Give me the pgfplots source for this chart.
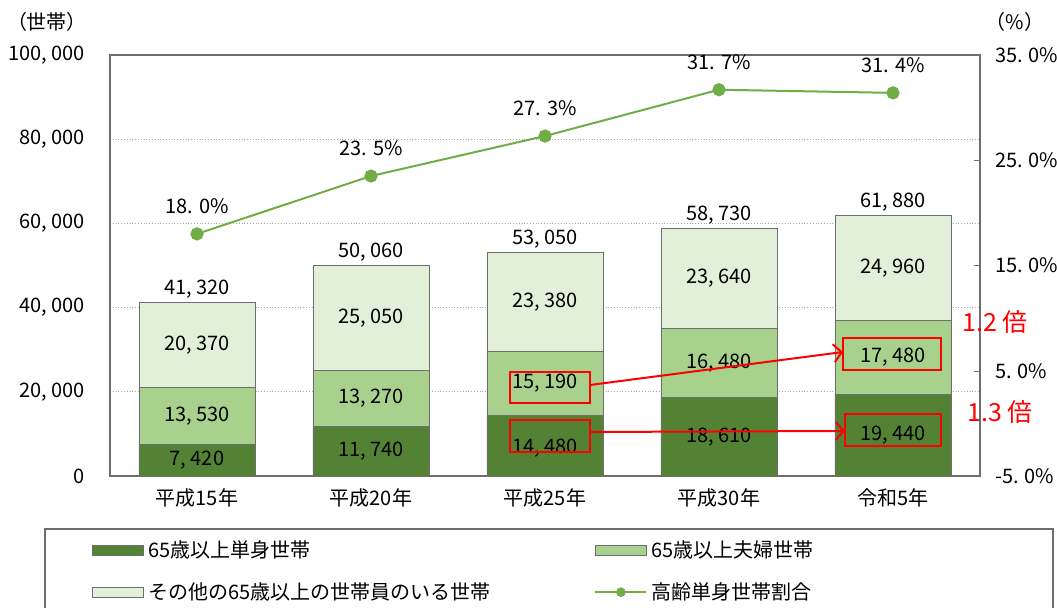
\documentclass[border=0pt]{standalone}
\usepackage{pgfplots}
\pgfplotsset{compat=1.18}
\usepackage{fontspec}
\setmainfont{Noto Sans CJK JP}
\usetikzlibrary{arrows.meta}
\definecolor{dg}{RGB}{84,130,53}
\definecolor{mg}{RGB}{169,209,142}
\definecolor{lg}{RGB}{226,240,217}
\definecolor{ln}{RGB}{112,173,71}
\definecolor{edge}{RGB}{110,110,110}
\begin{document}
\begin{tikzpicture}[font=\fontsize{10}{12}\selectfont]
\useasboundingbox (-55pt,-66pt) rectangle (473.5pt,238pt);
\begin{axis}[name=ax, at={(0,0)}, anchor=south west,
  scale only axis, width=435pt, height=210.5pt,
  xmin=-0.5, xmax=4.5, ymin=0, ymax=100000,
  ybar stacked, bar width=58pt, clip=false,
  xtick={0,1,2,3,4},
  xticklabels={平成15年,平成20年,平成25年,平成30年,令和5年},
  xticklabel style={yshift=-3pt},
  ytick={0,20000,40000,60000,80000,100000},
  yticklabels={0,{20, 000},{40, 000},{60, 000},{80, 000},{100, 000}},
  yticklabel style={xshift=-9pt},
  scaled y ticks=false,
  tick style={draw=none},
  ymajorgrids, grid style={densely dotted, gray!70},
  axis line style={edge, line width=0.8pt},
  legend columns=2,
  legend cell align=left,
  legend style={draw=none, fill=none, at={(0,0)}, anchor=north west,
    xshift=-9pt, yshift=-30pt, inner sep=0pt, row sep=7pt,
    /tikz/every even column/.append style={column sep=50pt}},
  area legend,
  legend image code/.code={\draw[#1] (0pt,-2.6pt) rectangle (25.5pt,2.6pt);},
]
\addplot[fill=dg, draw=edge] coordinates {(0,7420) (1,11740) (2,14480) (3,18610) (4,19440)};
\addplot[fill=mg, draw=edge] coordinates {(0,13530) (1,13270) (2,15190) (3,16480) (4,17480)};
\addplot[fill=lg, draw=edge] coordinates {(0,20370) (1,25050) (2,23380) (3,23640) (4,24960)};
\addlegendentry{65歳以上単身世帯}
\addlegendentry{65歳以上夫婦世帯}
\addlegendentry{その他の65歳以上の世帯員のいる世帯}
\addlegendimage{legend image code/.code={%
  \draw[ln, line width=1pt] (0pt,0pt) -- (25.5pt,0pt);
  \fill[ln] (12.75pt,0pt) circle (2.2pt);}}
\addlegendentry{高齢単身世帯割合}
\end{axis}
\begin{axis}[at={(0,0)}, anchor=south west,
  scale only axis, width=435pt, height=210.5pt,
  xmin=-0.5, xmax=4.5, ymin=-5, ymax=35,
  axis x line=none, axis y line*=right, clip=false,
  ytick={-5,5,15,25,35},
  yticklabels={-5. 0\%,5. 0\%,15. 0\%,25. 0\%,35. 0\%},
  yticklabel style={xshift=4pt},
  tick align=inside, major tick length=3pt,
  tick style={edge},
  axis line style={edge, line width=0.8pt},
]
\addplot[ln, line width=1pt, mark=*, mark size=2.8pt, mark options={fill=ln, draw=ln}]
  coordinates {(0,18.0) (1,23.5) (2,27.3) (3,31.7) (4,31.4)};
\node[anchor=south, yshift=6.5pt] at (axis cs:0,18.0) {18. 0\%};
\node[anchor=south, yshift=6.5pt] at (axis cs:1,23.5) {23. 5\%};
\node[anchor=south, yshift=6.5pt] at (axis cs:2,27.3) {27. 3\%};
\node[anchor=south, yshift=6.5pt] at (axis cs:3,31.7) {31. 7\%};
\node[anchor=south, yshift=6.5pt] at (axis cs:4,31.4) {31. 4\%};
\end{axis}
% overlay axis for labels and annotations (left-axis coordinates)
\begin{axis}[at={(0,0)}, anchor=south west,
  scale only axis, width=435pt, height=210.5pt,
  xmin=-0.5, xmax=4.5, ymin=0, ymax=100000,
  hide axis, clip=false]
\node at (axis cs:0,3710) {7, 420};
\node at (axis cs:0,14185) {13, 530};
\node at (axis cs:0,31135) {20, 370};
\node[anchor=south, yshift=-1.5pt] at (axis cs:0,41320) {41, 320};
\node at (axis cs:1,5870) {11, 740};
\node at (axis cs:1,18375) {13, 270};
\node at (axis cs:1,37535) {25, 050};
\node[anchor=south, yshift=-1.5pt] at (axis cs:1,50060) {50, 060};
\node at (axis cs:2,6700) {14, 480};
\node at (axis cs:2,22075) {15, 190};
\node at (axis cs:2,41360) {23, 380};
\node[anchor=south, yshift=-1.5pt] at (axis cs:2,53050) {53, 050};
\node at (axis cs:3,9305) {18, 610};
\node at (axis cs:3,26850) {16, 480};
\node at (axis cs:3,46910) {23, 640};
\node[anchor=south, yshift=-1.5pt] at (axis cs:3,58730) {58, 730};
\node at (axis cs:4,9720) {19, 440};
\node at (axis cs:4,28180) {17, 480};
\node at (axis cs:4,49400) {24, 960};
\node[anchor=south, yshift=-1.5pt] at (axis cs:4,61880) {61, 880};
\draw[red, line width=1pt] (axis cs:1.80,17340) rectangle (axis cs:2.26,24700);
\draw[red, line width=1pt] (axis cs:1.80,5700) rectangle (axis cs:2.26,13300);
\draw[red, line width=1pt] (axis cs:3.713,25180) rectangle (axis cs:4.276,32780);
\draw[red, line width=1pt] (axis cs:3.724,7130) rectangle (axis cs:4.276,14730);
\draw[red, line width=1pt, -{Straight Barb[length=4pt,width=9pt]}] (axis cs:2.26,21620) -- (axis cs:3.713,29450);
\draw[red, line width=1pt, -{Straight Barb[length=4pt,width=9pt]}] (axis cs:2.26,10450) -- (axis cs:3.724,10690);
\node[red, font=\fontsize{12.5}{14}\selectfont] at (axis cs:4.586,36580) {1.2 倍};
\node[red, font=\fontsize{12.5}{14}\selectfont] at (axis cs:4.615,15200) {1.3 倍};
\end{axis}
\node at (-31.5pt,227pt) {（世帯）};
\node at (452.5pt,227pt) {（\%）};
\draw[edge, line width=0.8pt] (-32.5pt,-26.5pt) rectangle (471.5pt,-100pt);
\end{tikzpicture}
\end{document}
